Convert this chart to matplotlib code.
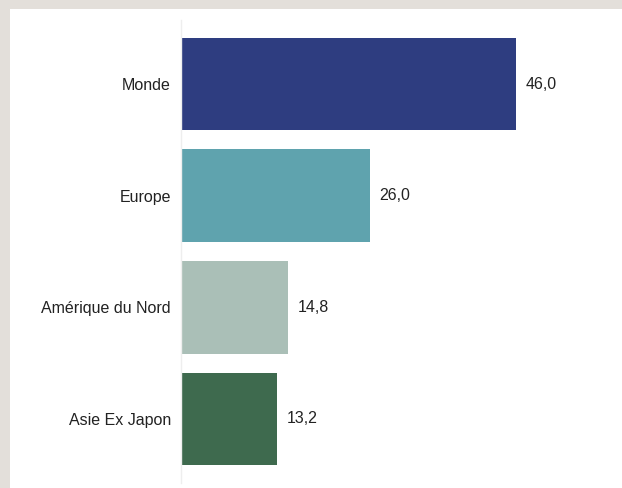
import matplotlib
matplotlib.use('Agg')
import matplotlib.pyplot as plt
from matplotlib.patches import Rectangle

categories = ['Monde', 'Europe', 'Amérique du Nord', 'Asie Ex Japon']
values = [46.0, 26.0, 14.8, 13.2]
colors = ['#2e3d80', '#5fa3ae', '#aabfb7', '#3e6a4e']

plt.rcParams['font.family'] = ['Liberation Sans', 'DejaVu Sans']

W, H = 622, 488
fig = plt.figure(figsize=(W / 100, H / 100), dpi=100, facecolor='#e3dfda')
# white panel (beige border on top and left only)
fig.patches.append(Rectangle((10 / W, 0), 1 - 10 / W, 1 - 9 / H,
                             transform=fig.transFigure, facecolor='white',
                             edgecolor='none', zorder=-10))

ax = fig.add_axes([180.5 / W, 5 / H, 437 / W, 463 / H])
ax.set_facecolor('none')
ax.set_zorder(1)

ys = range(len(categories))
ax.barh(ys, values, height=0.83, color=colors, edgecolor='none')
for y, v in zip(ys, values):
    ax.text(v + 1.35, y, f'{v:.1f}'.replace('.', ','), va='center', ha='left',
            fontsize=11.5, color='#222222')

ax.set_xlim(0, 60)
ax.set_ylim(3.575, -0.575)
ax.set_yticks(list(ys))
ax.set_yticklabels(categories, fontsize=11.5, color='#222222')
ax.tick_params(axis='y', length=0, pad=7)
ax.set_xticks([])
for side in ['top', 'right', 'bottom']:
    ax.spines[side].set_visible(False)
ax.spines['left'].set_color('#eeeeee')
ax.spines['left'].set_linewidth(1.0)

fig.savefig('out.png', dpi=100, facecolor=fig.get_facecolor())
